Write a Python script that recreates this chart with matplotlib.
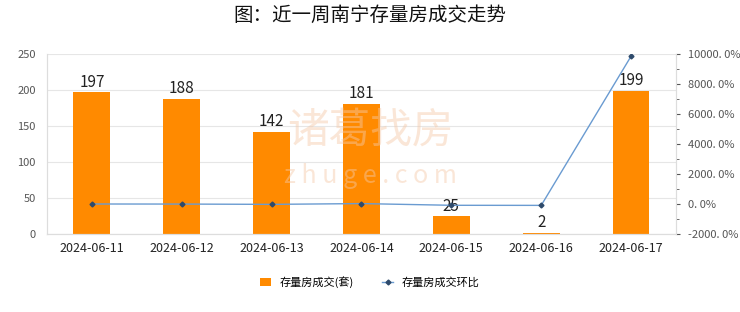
import matplotlib
matplotlib.use('Agg')
import matplotlib.pyplot as plt
from matplotlib.ticker import MultipleLocator, FuncFormatter

plt.rcParams['font.family'] = ['Noto Sans CJK SC', 'DejaVu Sans']

dates = ['2024-06-11', '2024-06-12', '2024-06-13', '2024-06-14',
         '2024-06-15', '2024-06-16', '2024-06-17']
deals = [197, 188, 142, 181, 25, 2, 199]
mom_pct = [0.0, -4.6, -24.5, 27.5, -86.2, -92.0, 9850.0]

fig = plt.figure(figsize=(7.4, 3.12), dpi=100)
ax = fig.add_axes([0.0635, 0.25, 0.85, 0.577])
ax2 = ax.twinx()

x = range(len(dates))
ax.bar(x, deals, width=0.41, color='#FF8A00', zorder=2, label='存量房成交(套)')
for xi, v in zip(x, deals):
    ax.text(xi, v + 2, str(v), ha='center', va='bottom', fontsize=11, color='#222222', zorder=5)

ax.set_ylim(0, 250)
ax.set_xlim(-0.5, len(dates) - 0.5)
ax.yaxis.set_major_locator(MultipleLocator(50))
ax.grid(axis='y', color='#e6e6e6', linewidth=0.8, zorder=0)
ax.set_xticks(list(x))
ax.set_xticklabels(dates, fontsize=9, color='#222222')
ax.tick_params(axis='x', length=0, pad=6)
ax.tick_params(axis='y', length=0, labelsize=8, labelcolor='#555555', pad=8)

ax2.plot(list(x), mom_pct, color='#6A9BD1', linewidth=1, marker='D', markersize=2.5,
         markerfacecolor='#2E4A6B', markeredgecolor='#2E4A6B', zorder=4, label='存量房成交环比')
ax2.set_ylim(-2000, 10000)
ax2.yaxis.set_major_locator(MultipleLocator(2000))
ax2.yaxis.set_minor_locator(MultipleLocator(1000))
ax2.yaxis.set_major_formatter(FuncFormatter(lambda v, p: f'{v:.1f}%'.replace('.', '. ')))
ax2.tick_params(axis='y', which='major', length=3, labelsize=8, labelcolor='#555555', color='#555555', pad=6)
ax2.tick_params(axis='y', which='minor', length=2, color='#555555')

for a in (ax, ax2):
    a.spines['top'].set_visible(False)
    for side in ('left', 'right', 'bottom'):
        a.spines[side].set_color('#dddddd')

# watermark
fig.text(0.5, 0.58, '诸葛找房', fontsize=30, color='#F5C9A8', alpha=0.45, ha='center', va='center', zorder=0)
fig.text(0.5, 0.435, 'z h u g e . c o m', fontsize=18, color='#F5C9A8', alpha=0.45, ha='center', va='center', zorder=0)

fig.suptitle('图：近一周南宁存量房成交走势', fontsize=14, y=0.985, color='#111111', fontweight='medium')

h1, l1 = ax.get_legend_handles_labels()
h2, l2 = ax2.get_legend_handles_labels()
fig.legend(h1 + h2, l1 + l2, loc='center', bbox_to_anchor=(0.5, 0.095), ncol=2, frameon=False,
           fontsize=8, handlelength=1.0, handleheight=0.7, columnspacing=2.5)

fig.savefig('out.png', dpi=100)
